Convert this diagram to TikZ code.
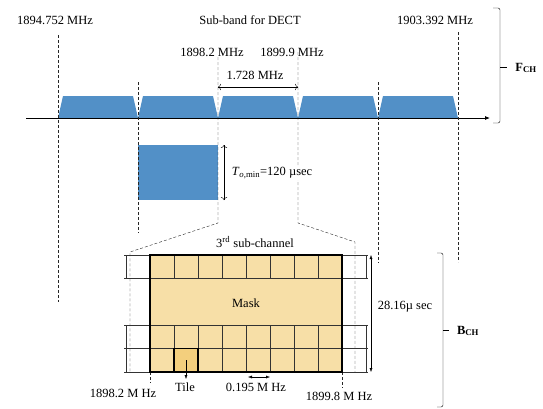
\documentclass[tikz,border=0pt]{standalone}
\usepackage{fontspec}
\setmainfont{Liberation Serif}
\usetikzlibrary{arrows.meta}

\definecolor{chblue}{RGB}{82,144,199}
\definecolor{maskfill}{RGB}{247,223,167}
\definecolor{tilefill}{RGB}{243,207,125}

\begin{document}
\begin{tikzpicture}[x=1pt,y=-1pt,font=\fontsize{12.5}{15}\selectfont]

        \useasboundingbox (0,0) rectangle (543,408);

        % frequency axis and channels
        \foreach \x in {58,138,218,298,378} {
          \fill[chblue] (\x,118) -- (\x+5,96) -- (\x+75,96) -- (\x+80,118) -- cycle;
        }
        \coordinate (a0) at (26,118);
        \coordinate (a1) at (490,118);
        \draw[thick,-{Latex[length=5pt,width=4pt]}] (a0) -- (a1);

        % slot of the 3rd sub-channel
        \fill[chblue] (138,145) rectangle (218,200);

        % guide lines
        \begin{scope}[every path/.style={draw=black!85,dash pattern=on 3pt off 2pt,thin}]
          \path (58,35)  -- (58,302);
          \path (138,82) -- (138,233);
          \path (218,57) -- (218,223) -- (130,252) -- (130,372);
          \path (298,52) -- (298,223) -- (355,242) -- (355,372);
          \path (378,82) -- (378,263);
          \path (458,32) -- (458,262);
          \path (150,372) -- (150,383);
          \path (342,372) -- (342,388);
        \end{scope}

        % mask grid
        \fill[maskfill] (150,255) rectangle (342,372);
        \fill[tilefill] (174,348.5) rectangle (198,372);
        \begin{scope}[every path/.style={draw=black!80,thin}]
          \foreach \x in {174,198,...,318} {
            \path (\x,255) -- (\x,278.5);
            \path (\x,325) -- (\x,372);
          }
          \foreach \y in {255,278.5,325,348.5,372} {
            \path (124,\y) -- (368,\y);
          }
          \foreach \x in {126,366} {
            \path (\x,255) -- (\x,278.5);
            \path (\x,325) -- (\x,372);
          }
        \end{scope}
        \draw[very thick] (150,255) rectangle (342,372);
        \draw[very thick] (174,348.5) rectangle (198,372);

        % labels
        \begin{scope}[every node/.style={inner sep=1pt}]
          \node (1)  at (55,20)   {1894.752 MHz};
          \node (2)  at (250,20)  {Sub-band for DECT};
          \node (3)  at (435,20)  {1903.392 MHz};
          \node (4)  at (212,52)  {1898.2 MHz};
          \node (5)  at (292,52)  {1899.9 MHz};
          \node (6)  at (255,75)  {1.728 MHz};
          \node[fill=white] (7) at (272,173) {\textit{T}\textsubscript{\textit{o},min}=120 µsec};
          \node (8)  at (255,242) {3\textsuperscript{rd} sub-channel};
          \node (9)  at (246,303) {Mask};
          \node (10) at (405,307) {28.16µ sec};
          \node (11) at (185,387) {Tile};
          \node (12) at (256,387) {0.195 M Hz};
          \node (13) at (123,393) {1898.2 M Hz};
          \node (14) at (339,396) {1899.8 M Hz};
          \node (15) at (526,68)  {\textbf{F}\textsubscript{\textbf{CH}}};
          \node (16) at (468,331) {\textbf{B}\textsubscript{\textbf{CH}}};
        \end{scope}

        % dimension arrows
        \coordinate (w0) at (218,87);  \coordinate (w1) at (298,87);
        \coordinate (t0) at (224,145); \coordinate (t1) at (224,200);
        \coordinate (b0) at (371,255); \coordinate (b1) at (371,372);
        \coordinate (s0) at (248,377); \coordinate (s1) at (270,377);
        \coordinate (tc) at (186,360); \coordinate (tl) at (186,379);
        \draw[{To[length=3pt]}-{To[length=3pt]}] (w0) -- (w1);
        \draw[{To[length=3pt]}-{To[length=3pt]}] (t0) -- (t1);
        \draw[{Latex[length=4pt,width=3pt]}-{Latex[length=4pt,width=3pt]}] (b0) -- (b1);
        \draw[{Latex[length=4pt,width=3pt]}-{Latex[length=4pt,width=3pt]}] (s0) -- (s1);
        \draw[-{Latex[length=4pt,width=3pt]}] (tc) -- (tl);

        % brackets
        \draw[rounded corners=2pt] (493,8) -- (500,8) -- (500,123) -- (493,123);
        \draw (500,67) -- (507,67);
        \draw[rounded corners=2pt] (437,253) -- (443,253) -- (443,407) -- (437,407);
        \draw (443,330) -- (449,330);

      \end{tikzpicture}
\end{document}
